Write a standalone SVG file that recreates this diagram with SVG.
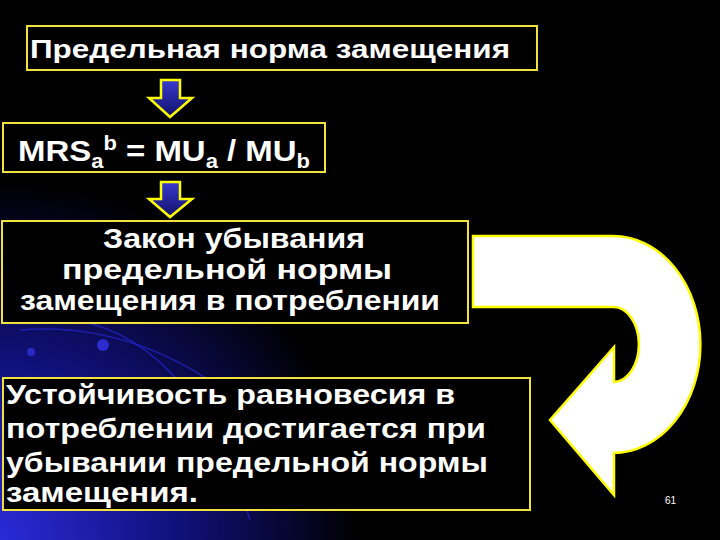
<svg xmlns="http://www.w3.org/2000/svg" width="720" height="540" viewBox="0 0 720 540">
<defs>
<radialGradient id="glow" cx="0" cy="540" r="360" gradientUnits="userSpaceOnUse">
<stop offset="0" stop-color="#2a2ad8"/>
<stop offset="0.5" stop-color="#10107a"/>
<stop offset="1" stop-color="#000000"/>
</radialGradient>
<linearGradient id="dn" x1="0" y1="0" x2="0" y2="1">
<stop offset="0" stop-color="#3a3ad0"/>
<stop offset="1" stop-color="#10106a"/>
</linearGradient>
<style>
.box{fill:#000;stroke:#f0e040;stroke-width:2}
.t{font-family:"Liberation Sans",Arial,sans-serif;font-weight:bold;fill:#fff}
.da{fill:url(#dn);stroke:#ffff00;stroke-width:2.5;stroke-linejoin:miter}
</style>
</defs>
<rect width="720" height="540" fill="#000"/>
<rect width="720" height="540" fill="url(#glow)"/>
<g fill="none" stroke="#2a2ae0" stroke-opacity="0.6" stroke-width="1.5">
<path d="M20,330 Q150,320 260,420"/>
<path d="M60,318 Q190,330 250,520"/>
</g>
<circle cx="103" cy="345" r="6" fill="#3a3aff" opacity="0.7"/>
<circle cx="31" cy="352" r="4" fill="#3a3aff" opacity="0.6"/>
<g id="n1"><rect class="box" x="27" y="26" width="510" height="44"/>
<text class="t" x="30" y="58" font-size="25" textLength="480" lengthAdjust="spacingAndGlyphs">Предельная норма замещения</text></g>
<g id="n2"><rect class="box" x="3" y="123" width="322" height="49"/>
<text class="t" x="18" y="161" font-size="30" textLength="292" lengthAdjust="spacingAndGlyphs">MRS<tspan font-size="20" dy="7">a</tspan><tspan font-size="20" dy="-18">b</tspan><tspan dy="11"> = MU</tspan><tspan font-size="20" dy="7">a</tspan><tspan dy="-7"> / MU</tspan><tspan font-size="20" dy="7">b</tspan></text></g>
<g id="n3"><rect class="box" x="2" y="221" width="466" height="102"/>
<text class="t" font-size="27" x="103" y="248" textLength="262" lengthAdjust="spacingAndGlyphs">Закон убывания</text>
<text class="t" font-size="27" x="62" y="279" textLength="330" lengthAdjust="spacingAndGlyphs">предельной нормы</text>
<text class="t" font-size="27" x="20" y="310" textLength="420" lengthAdjust="spacingAndGlyphs">замещения в потреблении</text></g>
<g id="n4"><rect class="box" x="3" y="378" width="527" height="132"/>
<text class="t" font-size="28" x="6" y="404" textLength="449" lengthAdjust="spacingAndGlyphs">Устойчивость равновесия в</text>
<text class="t" font-size="28" x="6" y="438" textLength="480" lengthAdjust="spacingAndGlyphs">потреблении достигается при</text>
<text class="t" font-size="28" x="6" y="472" textLength="482" lengthAdjust="spacingAndGlyphs">убывании предельной нормы</text>
<text class="t" font-size="28" x="6" y="502" textLength="192" lengthAdjust="spacingAndGlyphs">замещения.</text></g>
<g id="connectors">
<path class="da" d="M161,80 H180 V98 H192 L170,117 L149,98 H161 Z"/>
<path class="da" d="M161,182 H180 V199 H192 L170,217 L149,199 H161 Z"/>
<path d="M473,236 L613,236 A87,108 0 0 1 613,453 L614,453 L614,495 L550,420 L614,347 L614,382 A25,37 0 0 0 613,307 L473,307 Z" fill="#fff" stroke="#ffff00" stroke-width="2.5"/>
</g>
<text x="665" y="504" font-family="Liberation Sans,Arial,sans-serif" font-size="10" fill="#fff">61</text>
</svg>
